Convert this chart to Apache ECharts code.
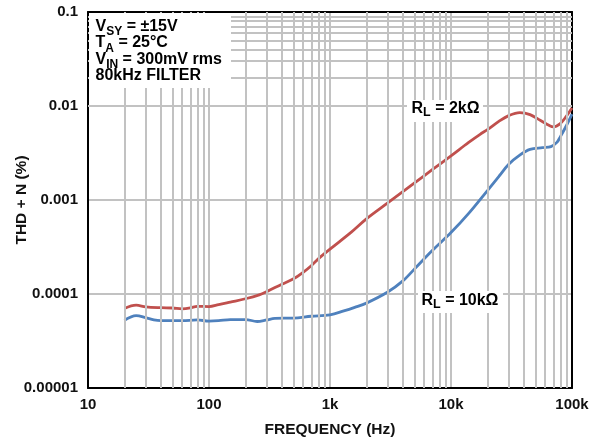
<!DOCTYPE html>
<html>
<head>
<meta charset="utf-8">
<script src="https://cdn.jsdelivr.net/npm/echarts@6/dist/echarts.min.js"></script>
<style>
html,body{margin:0;padding:0;background:#fff;}
#chart{width:603px;height:444px;}
</style>
</head>
<body>
<div id="chart"></div>
<script>
// ---- data ----
const freq2k = [20,25,30,40,50,60,70,80,100,120,150,200,260,300,400,500,600,700,826,1000,1500,2000,3000,5000,7000,10000,14000,17400,20000,25000,30000,37000,45000,55000,65000,70000,80000,90000,100000];
const thd2k  = [7.0e-5,7.6e-5,7.3e-5,7.15e-5,7.1e-5,6.95e-5,7.1e-5,7.4e-5,7.35e-5,7.7e-5,8.2e-5,8.9e-5,9.8e-5,1.06e-4,1.27e-4,1.45e-4,1.7e-4,2.0e-4,2.45e-4,3.0e-4,4.55e-4,6.3e-4,9.3e-4,1.52e-3,2.1e-3,2.95e-3,4.1e-3,5.0e-3,5.6e-3,6.9e-3,7.9e-3,8.5e-3,8.1e-3,7.0e-3,6.2e-3,6.0e-3,6.5e-3,7.8e-3,9.5e-3];
const freq10k = [20,25,30,35,40,50,60,80,100,120,150,200,250,300,350,500,700,1000,1300,1600,2000,3000,4000,5000,7000,10000,14000,20000,25000,30000,37000,45000,57000,67000,75000,80000,90000,100000];
const thd10k  = [5.25e-5,5.9e-5,5.6e-5,5.3e-5,5.2e-5,5.2e-5,5.2e-5,5.3e-5,5.15e-5,5.2e-5,5.35e-5,5.35e-5,5.1e-5,5.3e-5,5.5e-5,5.55e-5,5.8e-5,6.0e-5,6.6e-5,7.2e-5,8.0e-5,1.05e-4,1.38e-4,1.85e-4,2.9e-4,4.5e-4,7.2e-4,1.26e-3,1.8e-3,2.4e-3,3.0e-3,3.45e-3,3.6e-3,3.7e-3,4.1e-3,4.7e-3,6.2e-3,8.2e-3];
const xTickLabels = ['10','100','1k','10k','100k'];
const yTickLabels = ['0.00001','0.0001','0.001','0.01','0.1'];
const xDecades = [10,100,1000,10000];
const yDecades = [0.00001,0.0001,0.001,0.01];
const minorMult = [2,3,4,5,6,7,8,9];

// ---- build ----
const FONT = '"Liberation Sans", Arial, sans-serif';
const GRID_COLOR = '#c2c2c2';
const GRID_W = 2;
const gridLines = [];
xDecades.forEach(d => minorMult.forEach(m => gridLines.push({xAxis: d*m})));
yDecades.forEach(d => minorMult.forEach(m => gridLines.push({yAxis: d*m})));

const chart = echarts.init(document.getElementById('chart'), null, {renderer:'canvas'});
const tickStyle = {fontFamily: FONT, fontWeight: 'bold', fontSize: 15, color: '#111'};
const titleStyle = {fontFamily: FONT, fontWeight: 'bold', fontSize: 15.5, color: '#111'};
const main = {fontFamily: FONT, fontWeight: 'bold', fontSize: 16, color: '#111', lineHeight: 16.3};
const subLow = {fontFamily: FONT, fontWeight: 'bold', fontSize: 12, color: '#111', height: 6, verticalAlign: 'bottom'};
const subMid = {fontFamily: FONT, fontWeight: 'bold', fontSize: 12.5, color: '#111', height: 8.6, verticalAlign: 'bottom'};

chart.setOption({
  animation: false,
  backgroundColor: '#fff',
  grid: {left: 88, top: 12, right: 31, bottom: 56, containLabel: false, outerBoundsMode: 'none'},
  xAxis: [{
    type: 'log', min: 10, max: 100000, logBase: 10,
    name: 'FREQUENCY (Hz)', nameLocation: 'middle', nameGap: 34, nameMoveOverlap: false,
    nameTextStyle: titleStyle,
    axisLine: {show: true, onZero: false, lineStyle: {color: '#000', width: 2}},
    axisTick: {show: false},
    axisLabel: Object.assign({margin: 9, formatter: v => xTickLabels[Math.round(Math.log10(v)) - 1]}, tickStyle),
    splitLine: {show: true, lineStyle: {color: GRID_COLOR, width: GRID_W}}
  }, {
    type: 'log', min: 10, max: 100000, position: 'top',
    axisLine: {show: true, onZero: false, lineStyle: {color: '#000', width: 2}},
    axisTick: {show: false}, axisLabel: {show: false}, splitLine: {show: false}
  }],
  yAxis: [{
    type: 'log', min: 0.00001, max: 0.1, logBase: 10,
    name: 'THD + N (%)', nameLocation: 'middle', nameGap: 58, nameMoveOverlap: false,
    nameTextStyle: titleStyle,
    axisLine: {show: true, onZero: false, lineStyle: {color: '#000', width: 2}},
    axisTick: {show: false},
    axisLabel: Object.assign({margin: 10, formatter: v => yTickLabels[Math.round(Math.log10(v)) + 5]}, tickStyle),
    splitLine: {show: true, lineStyle: {color: GRID_COLOR, width: GRID_W}}
  }, {
    type: 'log', min: 0.00001, max: 0.1, position: 'right',
    axisLine: {show: true, onZero: false, lineStyle: {color: '#000', width: 2}},
    axisTick: {show: false}, axisLabel: {show: false}, splitLine: {show: false}
  }],
  series: [{
    type: 'line', data: [], z: 1, silent: true,
    markLine: {
      silent: true, symbol: ['none','none'], animation: false,
      label: {show: false},
      lineStyle: {color: GRID_COLOR, width: GRID_W, type: 'solid'},
      emphasis: {disabled: true},
      data: gridLines
    }
  }, {
    name: 'RL = 2kΩ', type: 'line', z: 3, showSymbol: false, smooth: 0.35,
    lineStyle: {color: '#c0504d', width: 2.8}, itemStyle: {color: '#c0504d'},
    data: freq2k.map((f, i) => [f, thd2k[i]])
  }, {
    name: 'RL = 10kΩ', type: 'line', z: 3, showSymbol: false, smooth: 0.35,
    lineStyle: {color: '#4f81bd', width: 2.8}, itemStyle: {color: '#4f81bd'},
    data: freq10k.map((f, i) => [f, thd10k[i]])
  }],
  graphic: [
    {type: 'rect', z: 10, shape: {x: 89, y: 13, width: 142, height: 75}, style: {fill: '#fff'}},
    {type: 'text', z: 11, x: 95.5, y: 18.6, style: {
      text: '{m|V}{s|SY}{m| = ±15V}\n{m|T}{s|A}{m| = 25°C}\n{m|V}{s|IN}{m| = 300mV rms}\n{m|80kHz FILTER}',
      rich: {m: main, s: subLow}, verticalAlign: 'top', align: 'left'
    }},
    {type: 'rect', z: 10, shape: {x: 407, y: 100, width: 76, height: 22}, style: {fill: '#fff'}},
    {type: 'text', z: 11, x: 411.5, y: 100.5, style: {
      text: '{m|R}{s|L}{m| = 2kΩ}', rich: {m: main, s: subMid}, verticalAlign: 'top', align: 'left'
    }},
    {type: 'rect', z: 10, shape: {x: 418, y: 291, width: 85, height: 22}, style: {fill: '#fff'}},
    {type: 'text', z: 11, x: 421.5, y: 292.5, style: {
      text: '{m|R}{s|L}{m| = 10kΩ}', rich: {m: main, s: subMid}, verticalAlign: 'top', align: 'left'
    }}
  ]
});
</script>
</body>
</html>
